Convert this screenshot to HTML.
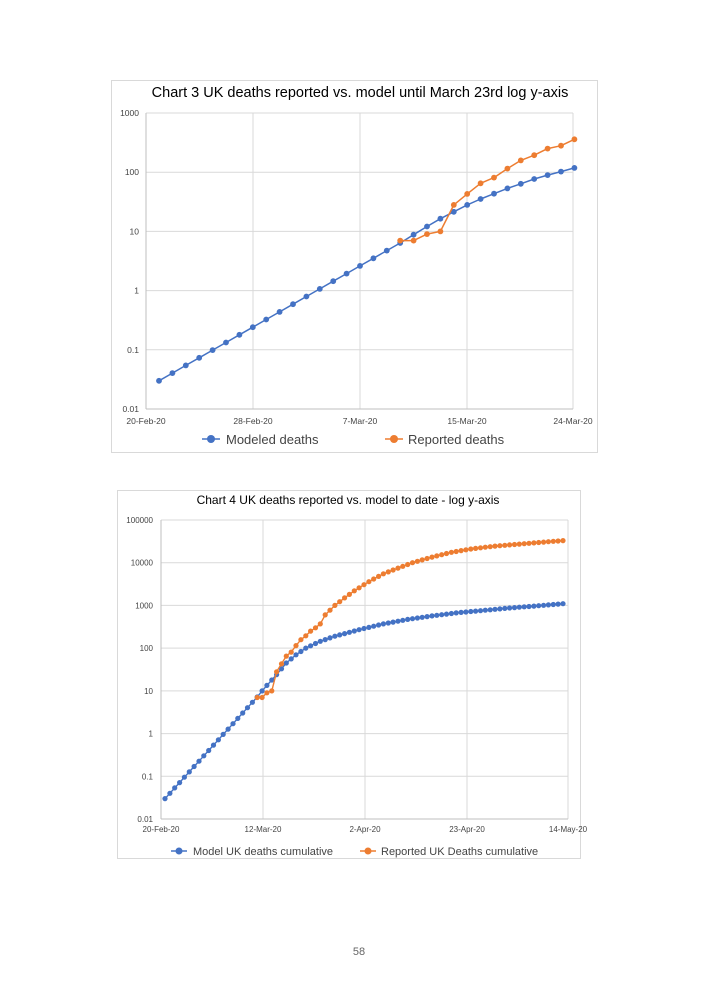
<!DOCTYPE html>
<html><head><meta charset="utf-8"><style>
html,body{margin:0;padding:0;background:#fff;}
svg{display:block}
text{font-family:"Liberation Sans",sans-serif;}
</style></head><body>
<svg id="s" width="709" height="992" viewBox="0 0 709 992" xmlns="http://www.w3.org/2000/svg">
<rect x="111.5" y="80.5" width="486" height="372" fill="#fff" stroke="#d9d9d9"/>
<rect x="117.5" y="490.5" width="463" height="368" fill="#fff" stroke="#d9d9d9"/>
<text x="360" y="97" font-size="14.5" text-anchor="middle" fill="#000">Chart 3 UK deaths reported vs. model until March 23rd log y-axis</text>
<text x="348" y="504" font-size="12" text-anchor="middle" fill="#000">Chart 4 UK deaths reported vs. model to date - log y-axis</text>
<text x="359" y="955" font-size="11" text-anchor="middle" fill="#666" font-family="Liberation Serif">58</text>
<g id="g"></g>
</svg>
<script>
var g=document.getElementById('g'),h='';
function L(x1,y1,x2,y2,c,w){h+='<line x1="'+x1+'" y1="'+y1+'" x2="'+x2+'" y2="'+y2+'" stroke="'+c+'" stroke-width="'+(w||1)+'"/>';}
function T(x,y,s,sz,a){h+='<text x="'+x+'" y="'+y+'" font-size="'+sz+'" text-anchor="'+(a||'middle')+'" fill="#444">'+s+'</text>';}
function interp(keys,d){for(var i=0;i<keys.length-1;i++){var a=keys[i],b=keys[i+1];if(d>=a[0]&&d<=b[0]){var t=(d-a[0])/(b[0]-a[0]);return Math.pow(10,Math.log10(a[1])+t*(Math.log10(b[1])-Math.log10(a[1])));}}return keys[keys.length-1][1];}
function series(pts,c,r,w){var p='';pts.forEach(function(q,i){p+=(i?'L':'M')+q[0].toFixed(1)+' '+q[1].toFixed(1);});h+='<path d="'+p+'" fill="none" stroke="'+c+'" stroke-width="'+w+'" stroke-linejoin="round"/>';pts.forEach(function(q){h+='<circle cx="'+q[0].toFixed(1)+'" cy="'+q[1].toFixed(1)+'" r="'+r+'" fill="'+c+'"/>';});}
var B='#4472c4',O='#ed7d31';
// Chart 3
(function(){var l=146,r=573,t=113,b=409,dec=(b-t)/5;
for(var i=0;i<=5;i++){var y=t+i*dec;L(l,y,r,y,'#d9d9d9');T(l-7,y+3,['1000','100','10','1','0.1','0.01'][i],8.5,'end');}
var xs=[146,253,360,467,573],lb=['20-Feb-20','28-Feb-20','7-Mar-20','15-Mar-20','24-Mar-20'];
xs.forEach(function(x,i){L(x,t,x,b,'#d9d9d9');T(x,424,lb[i],8.5);});
L(l,t,l,b,'#bfbfbf');L(l,b,r,b,'#bfbfbf');
function Y(v){return b-(Math.log10(v)+2)*dec;}
var mk=[[0,0.03],[19,7.2],[20,10],[22,18],[23,23],[24,30],[25,37],[26,45],[27,55],[28,65],[29,78],[30,90],[31,103],[32,118]];
var m=[];for(var d=0;d<=31;d++){m.push([159+d*13.4,Y(interp(mk,d*32/31))]);}
var rv=[7,7,9,10,28,43,65,81,115,158,194,250,280,360];
var rp=[];rv.forEach(function(v,i){rp.push([159+(18+i)*13.4,Y(v)]);});
series(m,B,2.9,1.5);series(rp,O,2.9,1.5);
h+='<line x1="202" y1="439" x2="220" y2="439" stroke="'+B+'" stroke-width="1.5"/><circle cx="211" cy="439" r="4" fill="'+B+'"/>';
h+='<text x="226" y="444" font-size="13" fill="#444">Modeled deaths</text>';
h+='<line x1="385" y1="439" x2="403" y2="439" stroke="'+O+'" stroke-width="1.5"/><circle cx="394" cy="439" r="4" fill="'+O+'"/>';
h+='<text x="408" y="444" font-size="13" fill="#444">Reported deaths</text>';
})();
// Chart 4
(function(){var l=161,r=568,t=520,b=819,dec=(b-t)/7;
var yl=['100000','10000','1000','100','10','1','0.1','0.01'];
for(var i=0;i<=7;i++){var y=t+i*dec;L(l,y,r,y,'#d9d9d9');T(l-8,y+3,yl[i],8,'end');}
var xs=[161,263,365,467,568],lb=['20-Feb-20','12-Mar-20','2-Apr-20','23-Apr-20','14-May-20'];
xs.forEach(function(x,i){L(x,t,x,b,'#d9d9d9');T(x,832,lb[i],8);});
L(l,t,l,b,'#bfbfbf');L(l,b,r,b,'#bfbfbf');
function Y(v){return b-(Math.log10(v)+2)*dec;}
var px=(563-165)/82;
var mk=[[0,0.03],[19,7.2],[20,10],[22,18],[23,24],[25,45],[27,70],[29,100],[32,145],[35,190],[40,270],[45,370],[50,470],[55,570],[60,670],[70,850],[82,1100]];
var m=[];for(var d=0;d<=82;d++)m.push([165+d*px,Y(interp(mk,d))]);
var rk=[[19,7],[20,7],[21,9],[22,10],[23,28],[24,43],[25,65],[26,81],[27,115],[28,158],[29,194],[30,250],[31,300],[32,370],[33,600],[35,1000],[37,1500],[39,2200],[42,3600],[45,5500],[48,7500],[51,10000],[55,13500],[59,17500],[63,21000],[68,24500],[75,28500],[82,33000]];
var rp=[];for(var d=19;d<=82;d++)rp.push([165+d*px,Y(interp(rk,d))]);
series(m,B,2.6,1.4);series(rp,O,2.6,1.4);
h+='<line x1="171" y1="851" x2="187" y2="851" stroke="'+B+'" stroke-width="1.5"/><circle cx="179" cy="851" r="3.5" fill="'+B+'"/>';
h+='<text x="193" y="855" font-size="11" fill="#444">Model UK deaths cumulative</text>';
h+='<line x1="360" y1="851" x2="376" y2="851" stroke="'+O+'" stroke-width="1.5"/><circle cx="368" cy="851" r="3.5" fill="'+O+'"/>';
h+='<text x="381" y="855" font-size="11" fill="#444">Reported UK Deaths cumulative</text>';
})();
g.innerHTML=h;
</script>
</body></html>
